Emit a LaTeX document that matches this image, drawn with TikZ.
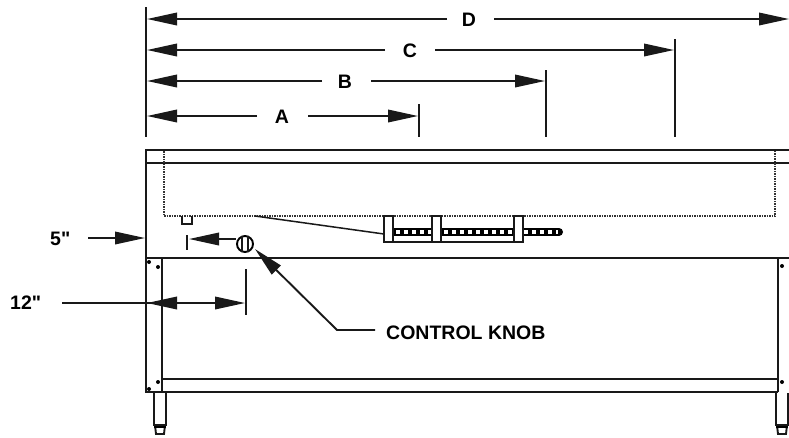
\documentclass[tikz,border=0pt]{standalone}
\usepackage{fontspec}
\setmainfont{Liberation Sans}
\newfontfamily\qfont{Liberation Sans}
\usetikzlibrary{arrows.meta}
\tikzset{
  ln/.style={line width=1.9pt,black!90},
  thin ln/.style={line width=1.5pt,black!90},
  dotline/.style={line width=2pt,black!80,dash pattern=on 1.5pt off 1pt},
  dim/.style={line width=1.9pt,black!90,-{Triangle[length=30pt,width=12.5pt]}},
  lab/.style={font=\fontsize{19.5}{19.5}\selectfont\bfseries,inner sep=0pt,black},
  screw/.style={circle,fill=black,inner sep=0pt,minimum size=4pt}
}
\begin{document}
\begin{tikzpicture}[x=1pt,y=-1pt]
\useasboundingbox (0,0) rectangle (789,437);
\fill[white] (0,0) rectangle (789,437);
% extension lines
\coordinate (L0) at (146,7); \coordinate (L1) at (146,137);
\draw[ln] (L0) -- (L1);
\coordinate (At) at (419,104); \coordinate (Ab) at (419,137);
\coordinate (Bt) at (546,70);  \coordinate (Bb) at (546,137);
\coordinate (Ct) at (675,39);  \coordinate (Cb) at (675,137);
\draw[ln] (At) -- (Ab); \draw[ln] (Bt) -- (Bb); \draw[ln] (Ct) -- (Cb);
% dimension labels
\node[lab] (A) at (282,117) {A};
\node[lab] (B) at (345,82) {B};
\node[lab] (C) at (410,51) {C};
\node[lab] (D) at (469,20) {D};
% dim lines
\draw[dim] (257,116) -- (147,116);
\draw[dim] (308,116) -- (418,116);
\draw[dim] (322,81) -- (147,81);
\draw[dim] (371,81) -- (545,81);
\draw[dim] (385,50) -- (147,50);
\draw[dim] (435,50) -- (674,50);
\draw[dim] (447,19) -- (147,19);
\draw[dim] (494,19) -- (789,19);
% body
\draw[ln] (789,150) -- (146,150) -- (146,392) -- (158,392);
\draw[ln] (146,163) -- (789,163);
\draw[ln] (146,258) -- (789,258);
\draw[ln] (162,258) -- (162,392);
\draw[ln] (158,392) -- (778,392);
\draw[ln] (162,379) -- (778,379);
\draw[ln] (778,258) -- (778,392);
% hidden pan
\draw[dotline] (164,151) -- (164,216) -- (775,216) -- (775,151);
\draw[thin ln] (182,216) -- (182,224) -- (192,224) -- (192,216);
% screws
\node[screw] (s1) at (149,262) {};
\node[screw] (s2) at (158,267) {};
\node[screw] (s3) at (149,389) {};
\node[screw] (s4) at (158,382) {};
\node[screw] (s5) at (782,266) {};
\node[screw] (s6) at (782,382) {};
% legs
\draw[ln] (154,393) -- (154,425) -- (166,425) -- (166,393);
\draw[ln] (155,425) -- (156,434) -- (164,434) -- (165,425);
\draw[line width=2.4pt] (154,427) -- (166,427);
\draw[ln] (776,393) -- (776,425) -- (788,425) -- (788,393);
\draw[ln] (777,425) -- (778,434) -- (786,434) -- (787,425);
\draw[line width=2.4pt] (776,427) -- (788,427);
% rod
\draw[line width=8pt,line cap=round] (393,232) -- (559,232);
\draw[line width=3.6pt,white,dash pattern=on 3.8pt off 4.2pt] (396,232) -- (558,232);
% brackets
\draw[ln,fill=white] (384,216) rectangle (393,242);
\draw[ln,fill=white] (432,216) rectangle (441,242);
\draw[ln,fill=white] (514,216) rectangle (523,242);
\draw[ln] (393,242) -- (432,242) (441,242) -- (514,242);
\draw[thin ln] (255,216) -- (384,234);
% knob
\node[circle,draw=black,line width=1.9pt,fill=white,minimum size=16pt,inner sep=0pt] (knob) at (245,244) {};
\draw[thin ln] (242,236) -- (242,252) (248,236) -- (248,252);
% knob dim
\coordinate (tk) at (187,235); \coordinate (tkb) at (187,250);
\draw[ln] (tk) -- (tkb);
\draw[dim] (knob.west) ++(0,-5) -- (189,239);
% 5 in
\node[lab,anchor=west] (five) at (50,239) {\qfont\bfseries 5"};
\draw[dim] (88,238) -- (145,238);
% 12 in
\node[lab,anchor=west] (twelve) at (10,303) {\qfont\bfseries 12"};
\coordinate (t12) at (246,269); \coordinate (t12b) at (246,315);
\draw[ln] (t12) -- (t12b);
\draw[ln] (62,303) -- (200,303);
\draw[dim] (200,303) -- (147,303);
\draw[dim] (200,303) -- (245,303);
% control knob
\node[lab,anchor=west] (ck) at (386,333) {CONTROL KNOB};
\draw[dim] (375,330) -- (337,330) -- (255,249);
\end{tikzpicture}
\end{document}
